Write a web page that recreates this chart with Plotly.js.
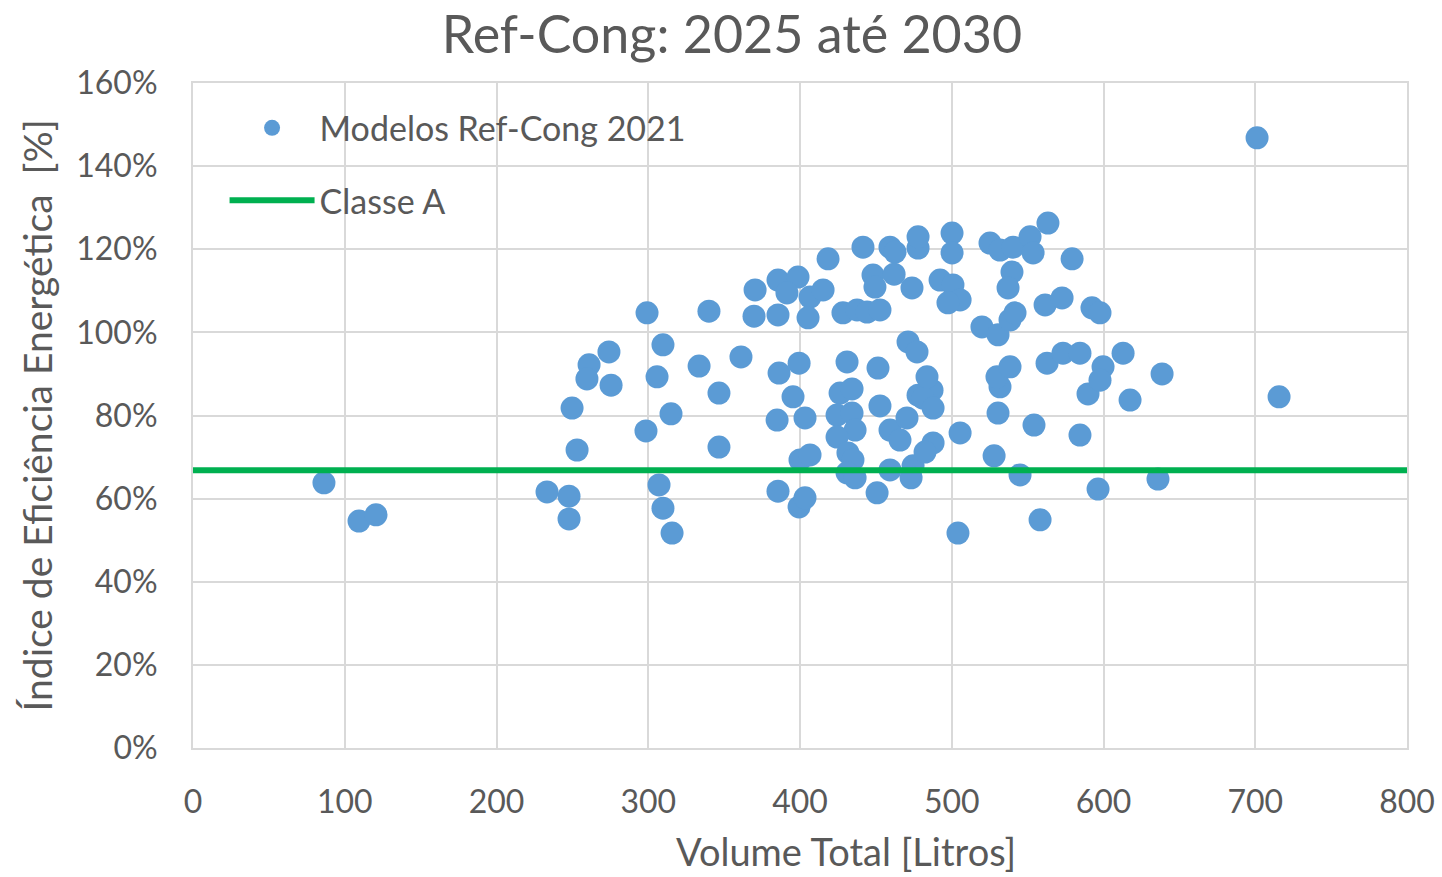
<!DOCTYPE html>
<html>
<head>
<meta charset="utf-8">
<script src="https://cdn.plot.ly/plotly-3.0.1.min.js"></script>
<style>html,body{margin:0;padding:0;background:#fff;}#chart{width:1442px;height:877px;}</style>
</head>
<body>
<div id="chart"></div>
<script>
// Volume Total [Litros]
const volume = [
  86.3, 109.4, 120.6, 233.3, 247.8, 247.8, 249.8, 253.1, 261.0, 259.6,
  274.1, 275.5, 299.2, 298.5, 305.8, 307.1, 309.7, 309.7, 315.0, 315.7,
  333.5, 340.0, 346.6, 346.6, 361.1, 370.4, 369.7, 385.5, 385.5, 398.7,
  391.4, 406.6, 415.2, 405.3, 418.5, 386.2, 399.4, 395.4, 384.9, 403.3,
  400.0, 406.6, 385.5, 399.4, 403.3, 428.3, 437.6, 444.2, 452.7, 441.5,
  459.3, 462.6, 448.1, 449.4, 462.0, 473.8, 477.8, 477.8, 431.0, 451.4,
  426.4, 434.3, 452.7, 471.2, 477.1, 477.8, 424.4, 434.3, 436.3, 424.4,
  431.6, 434.9, 431.0, 436.3, 450.8, 459.3, 465.9, 470.5, 459.3, 474.5,
  473.2, 487.0, 481.1, 487.7, 487.7, 482.4, 505.5, 530.5, 531.8, 527.9,
  545.0, 554.2, 584.5, 589.8, 596.4, 558.2, 504.1, 500.2, 500.2, 525.2,
  531.8, 540.4, 551.6, 553.6, 563.4, 539.7, 537.1, 579.3, 492.3, 500.8,
  505.5, 497.5, 519.9, 530.5, 538.4, 541.7, 561.5, 572.7, 592.4, 597.7,
  483.7, 529.8, 538.4, 562.8, 573.3, 584.5, 599.7, 597.7, 612.9, 617.5,
  638.6, 715.7, 635.9, 701.2
];
// Índice de Eficiência Energética [%]
const indice = [
  63.8, 54.6, 56.1, 61.6, 60.6, 55.1, 81.8, 71.7, 92.2, 88.8,
  95.3, 87.3, 104.7, 76.3, 89.3, 63.3, 57.7, 97.0, 80.4, 51.7,
  91.9, 105.1, 85.4, 72.4, 94.1, 110.2, 103.9, 112.6, 104.2, 113.3,
  109.5, 108.5, 110.2, 103.5, 117.7, 90.2, 92.6, 84.5, 78.9, 79.4,
  69.3, 70.5, 61.8, 58.0, 60.2, 104.7, 105.4, 104.9, 105.4, 120.5,
  120.5, 119.3, 113.8, 110.9, 114.0, 110.7, 120.3, 123.0, 92.9, 91.4,
  85.4, 86.4, 82.3, 97.7, 95.3, 84.9, 80.1, 80.6, 76.5, 74.8,
  71.0, 69.3, 66.2, 65.0, 61.4, 76.5, 74.1, 79.4, 66.9, 67.9,
  65.0, 86.1, 84.2, 81.8, 73.4, 71.2, 75.8, 80.6, 86.9, 70.3,
  65.7, 77.7, 75.3, 85.2, 62.3, 54.9, 51.7, 123.9, 119.1, 121.5,
  119.8, 120.5, 123.0, 119.1, 126.3, 114.5, 110.7, 117.7, 112.6, 111.4,
  107.8, 107.1, 101.3, 99.4, 103.0, 104.7, 106.6, 108.3, 105.9, 104.7,
  89.3, 89.3, 91.7, 92.6, 95.0, 95.0, 91.7, 88.5, 95.0, 83.7,
  90.0, 84.5, 64.7, 146.8
];
// Classe A limit line
const classeX = [0, 800];
const classeY = [66.8, 66.8];

const xTicks = [0, 100, 200, 300, 400, 500, 600, 700, 800];
const yTicks = [0, 20, 40, 60, 80, 100, 120, 140, 160];

const FONT = 'Lato, "Open Sans", sans-serif';
const GRID = '#D9D9D9';
const TXT = '#595959';

const traces = [
  {
    x: volume, y: indice, type: 'scatter', mode: 'markers',
    name: 'Modelos Ref-Cong 2021',
    marker: {color: '#5B9BD5', size: 23, line: {width: 0}},
    legend: 'legend', cliponaxis: false
  },
  {
    x: classeX, y: classeY, type: 'scatter', mode: 'lines',
    name: 'Classe A',
    line: {color: '#00B050', width: 6},
    legend: 'legend2'
  }
];

const legendBase = {
  bgcolor: 'rgba(0,0,0,0)', borderwidth: 0,
  font: {family: FONT, size: 34, color: TXT},
  xanchor: 'left', yanchor: 'middle', itemwidth: 85
};

const layout = {
  width: 1442, height: 877,
  paper_bgcolor: '#fff', plot_bgcolor: '#fff',
  margin: {l: 193, r: 35, t: 83, b: 129},
  font: {family: FONT, color: TXT},
  title: {
    text: 'Ref-Cong: 2025 até 2030',
    font: {family: FONT, size: 52, color: TXT},
    x: 0.5076, xanchor: 'center', y: 0.96, yanchor: 'middle'
  },
  xaxis: {
    range: [0, 800], tickvals: xTicks, ticktext: xTicks.map(String),
    showgrid: true, gridcolor: GRID, gridwidth: 2,
    showline: true, linecolor: GRID, linewidth: 2, mirror: true,
    zeroline: false, ticks: '', ticklabelstandoff: 25,
    tickfont: {family: FONT, size: 32, color: TXT}
  },
  yaxis: {
    range: [0, 160], tickvals: yTicks, ticktext: yTicks.map(v => v + '%'),
    showgrid: true, gridcolor: GRID, gridwidth: 2,
    showline: true, linecolor: GRID, linewidth: 2, mirror: true,
    zeroline: false, ticks: '', ticklabelstandoff: 27,
    tickfont: {family: FONT, size: 32, color: TXT},
    title: {text: 'Índice de Eficiência Energética  [%]', font: {family: FONT, size: 39, color: TXT}, standoff: 12}
  },
  annotations: [{
    text: 'Volume Total [Litros]', xref: 'paper', yref: 'paper',
    x: 0.538, y: -0.192, xanchor: 'center', yanchor: 'bottom',
    showarrow: false, font: {family: FONT, size: 38, color: TXT}
  }],
  legend: Object.assign({}, legendBase, {x: 0.026, y: 0.932}),
  legend2: Object.assign({}, legendBase, {x: 0.026, y: 0.823}),
  showlegend: true
};

Plotly.newPlot('chart', traces, layout, {staticPlot: true, displayModeBar: false});
</script>
</body>
</html>
